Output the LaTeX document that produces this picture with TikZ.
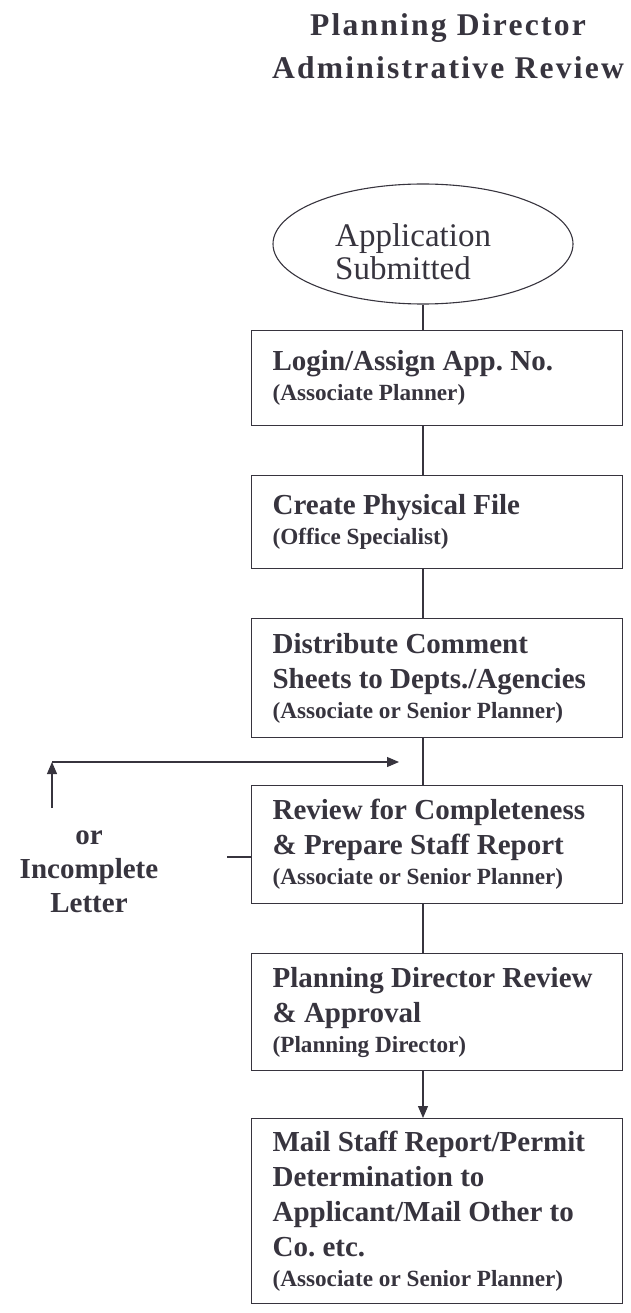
\documentclass[tikz,border=0pt]{standalone}
\usepackage{fontspec}
\setmainfont{Liberation Serif}
\newfontfamily\titlefam[LetterSpace=7]{Liberation Serif}
\usetikzlibrary{shapes.geometric,arrows.meta}
\definecolor{ink}{RGB}{55,52,62}
\newcommand\boxmainfont{\bfseries\fontsize{29}{30}\selectfont\frenchspacing\spaceskip=0pt\xspaceskip=0pt }
\newcommand\boxsubfont{\bfseries\fontsize{23.2}{30}\selectfont\frenchspacing\spaceskip=0pt\xspaceskip=0pt }
\begin{document}
\begin{tikzpicture}[x=1pt,y=-1pt,
  every node/.style={text=ink},
  conn/.style={draw=ink,line width=1.1pt},
  arr/.style={conn,-{Triangle[length=12pt,width=10pt]}},
  stepbox/.style={draw=ink,line width=1.2pt,rectangle,anchor=north west,
    text width=329pt,inner xsep=21pt,inner ysep=0pt,align=left,font=\boxmainfont},
  startoval/.style={draw=ink,line width=1.1pt,ellipse,minimum width=300pt,
    minimum height=120pt,inner sep=0pt}]
\useasboundingbox (0,0) rectangle (631,1313);

\node[align=center,font=\titlefam\bfseries\fontsize{31.6}{43}\selectfont] (title) at (448,46)
  {Planning Director\\Administrative Review};

\node[startoval] (app) at (423,244) {};
\node[anchor=north west,inner sep=0pt,align=left,
  font=\fontsize{33}{33}\selectfont] (apptext) at (335,223) {Application\\Submitted};

\node[stepbox,minimum height=95pt] (b1) at (251,330)
  {\boxmainfont Login/Assign App. No.\\ \boxsubfont (Associate Planner)\par};
\node[stepbox,minimum height=93pt] (b2) at (251,475)
  {\boxmainfont Create Physical File\\ \boxsubfont (Office Specialist)\par};
\node[stepbox,minimum height=119pt] (b3) at (251,618)
  {\boxmainfont Distribute Comment\\[5pt] Sheets to Depts./Agencies\\ \boxsubfont (Associate or Senior Planner)\par};
\node[stepbox,minimum height=118pt] (b4) at (251,785)
  {\boxmainfont Review for Completeness\\[5pt] \& Prepare Staff Report\\ \boxsubfont (Associate or Senior Planner)\par};
\node[stepbox,minimum height=117pt] (b5) at (251,953)
  {\boxmainfont Planning Director Review\\[5pt] \& Approval\\ \boxsubfont (Planning Director)\par};
\node[stepbox,minimum height=185pt] (b6) at (251,1118)
  {\boxmainfont Mail Staff Report/Permit\\[5pt] Determination to\\[5pt] Applicant/Mail Other to\\[5pt] Co. etc.\\ \boxsubfont (Associate or Senior Planner)\par};

\node[align=center,font=\bfseries\fontsize{29}{34}\selectfont] (inc) at (89,872)
  {or\\Incomplete\\Letter};

% connectors
\draw[conn] (app.south) -- (app.south |- b1.north);
\draw[conn] (b1.south -| app) -- (b2.north -| app);
\draw[conn] (b2.south -| app) -- (b3.north -| app);
\draw[conn] (b3.south -| app) -- (b4.north -| app);
\draw[conn] (b4.south -| app) -- (b5.north -| app);
\draw[arr] (b5.south -| app) -- (b6.north -| app);

% return path
\coordinate (upstart) at (52,808);
\coordinate (corner) at (52,762);
\coordinate (rightend) at (399,762);
\draw[arr] (upstart) -- (corner);
\draw[arr] (corner) -- (rightend);
\coordinate (lead) at (227,857);
\draw[conn] (lead) -- (lead -| b4.west);
\end{tikzpicture}
\end{document}
